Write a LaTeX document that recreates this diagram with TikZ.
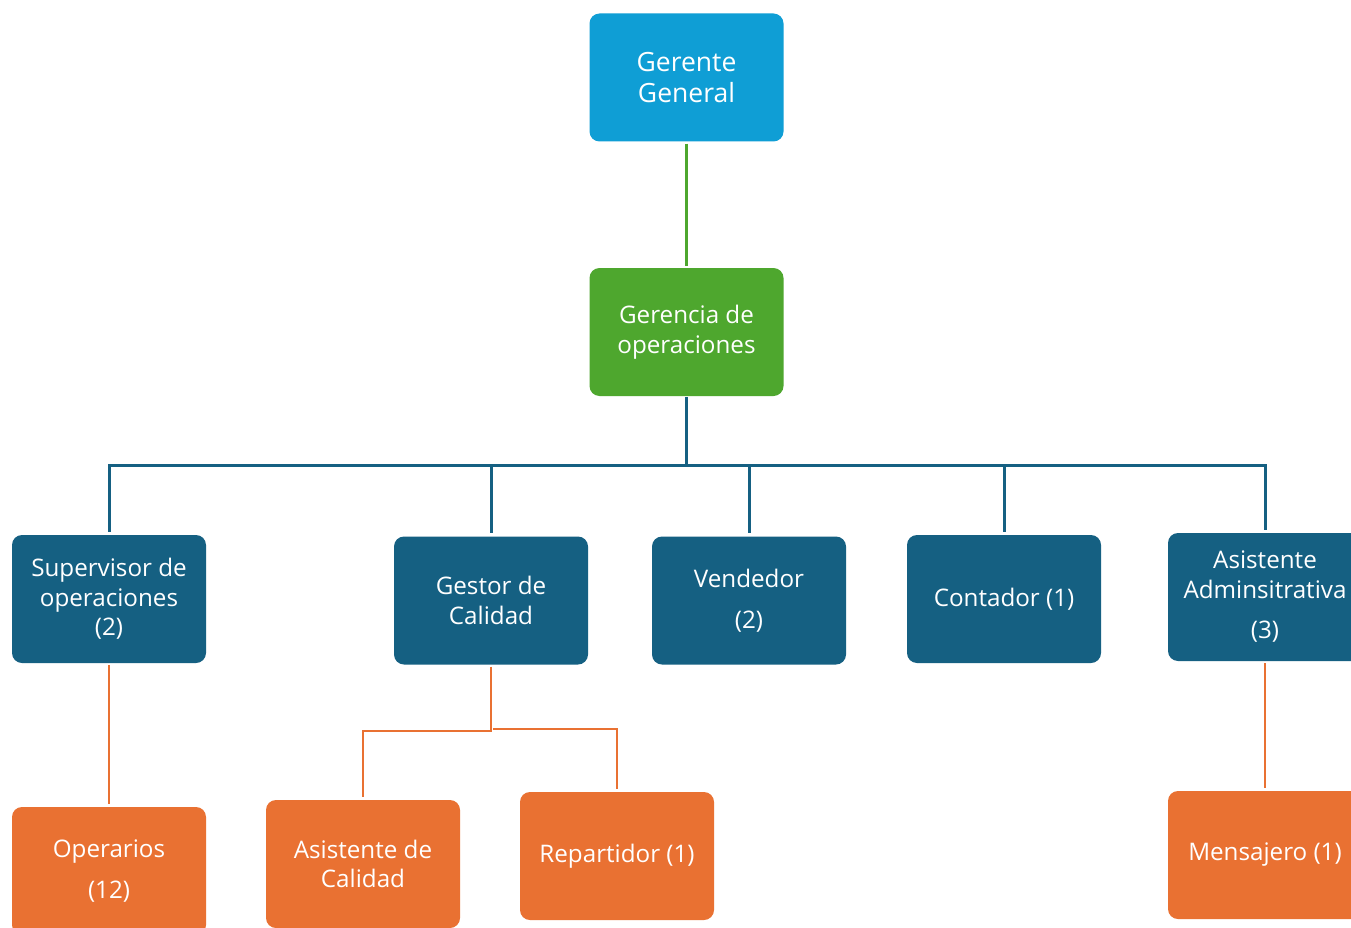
\documentclass[tikz,border=0pt]{standalone}
\usepackage{fontspec}
\setmainfont{Open Sans}
\definecolor{cBlue}{HTML}{0F9ED5}
\definecolor{cGreen}{HTML}{4EA72E}
\definecolor{cDark}{HTML}{156082}
\definecolor{cOrange}{HTML}{E97132}
\tikzset{
  box/.style={rounded corners=10pt, minimum width=194pt, minimum height=128pt, inner sep=0pt,
    align=center, text=white, font=\fontsize{24.2}{29.5}\selectfont},
  topbox/.style={box, fill=cBlue, font=\fontsize{26.5}{31.5}\selectfont},
  greenbox/.style={box, fill=cGreen},
  darkbox/.style={box, fill=cDark},
  orangebox/.style={box, fill=cOrange},
  greenline/.style={cGreen, line width=2.5pt, shorten <=2pt, shorten >=2pt},
  darkline/.style={cDark, line width=3pt, shorten >=3pt},
  orangeline/.style={cOrange, line width=2.5pt, shorten <=2pt, shorten >=3pt},
}
\begin{document}
\begin{tikzpicture}[x=1pt, y=-1pt]
\clip (0,0) rectangle (1351,928);
\fill[white] (0,0) rectangle (1351,928);

\node[topbox] (gg) at (686.5,77.5) {Gerente\\General};
\node[greenbox] (gop) at (686.5,332) {Gerencia de\\operaciones};

\node[darkbox] (sup) at (109,599) {Supervisor de\\operaciones\\(2)};
\node[darkbox] (ges) at (491,600.5) {Gestor de\\Calidad};
\node[darkbox] (ven) at (749,600.5) {Vendedor\\[11pt](2)};
\node[darkbox] (con) at (1004,599) {Contador (1)};
\node[darkbox] (asa) at (1265,597) {Asistente\\Adminsitrativa\\[11pt](3)};

\node[orangebox] (ope) at (109,871) {Operarios\\[11pt](12)};
\node[orangebox] (asc) at (363,864) {Asistente de\\Calidad};
\node[orangebox] (rep) at (617,856) {Repartidor (1)};
\node[orangebox] (men) at (1265,855) {Mensajero (1)};

\coordinate (bus) at (0,465);
\coordinate (ab) at (0,731);
\coordinate (rb) at (0,729);

\draw[greenline] (gg.south) -- (gop.south |- gop.north);

\draw[darkline, shorten <=1pt] (gop.south) -- (gop.south |- bus) -| (sup.north);
\draw[darkline] (gop.south |- bus) -| (ges.north);
\draw[darkline] (gop.south |- bus) -| (ven.north);
\draw[darkline] (gop.south |- bus) -| (con.north);
\draw[darkline] (gop.south |- bus) -| (asa.north);

\draw[orangeline] (sup.south) -- (ope.north);
\draw[orangeline] (ges.south) -- (ges.south |- ab) -| (asc.north);
\draw[orangeline] (ges.south |- rb) -| (rep.north);
\draw[orangeline] (asa.south) -- (men.north);
\end{tikzpicture}
\end{document}
